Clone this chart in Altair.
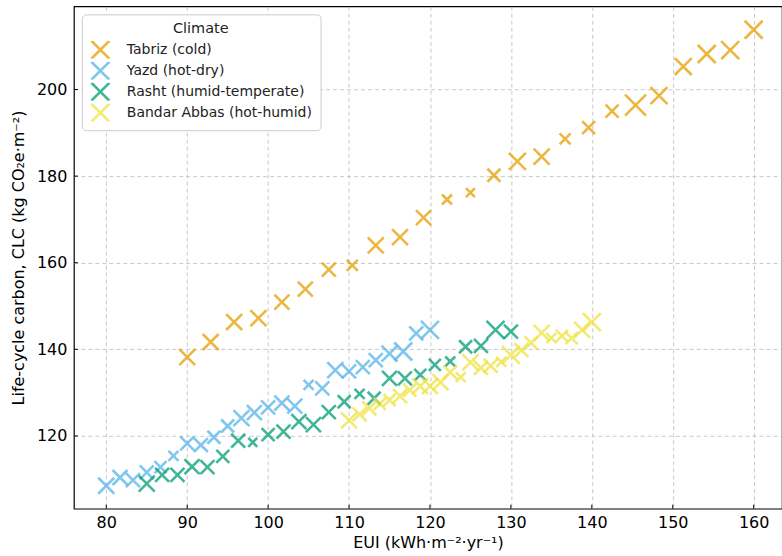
import altair as alt
import pandas as pd

climates = ["Tabriz (cold)", "Yazd (hot-dry)", "Rasht (humid-temperate)", "Bandar Abbas (hot-humid)"]
colors = ["#E69F00", "#56B4E9", "#009E73", "#F0E442"]

tabriz_eui = [90.0, 92.9, 95.8, 98.8, 101.7, 104.6, 107.5, 110.4, 113.3, 116.3, 119.2, 122.1, 125.0,
              127.9, 130.8, 133.8, 136.7, 139.6, 142.5, 145.4, 148.3, 151.3, 154.2, 157.1, 160.0]
tabriz_clc = [138.2, 141.7, 146.3, 147.2, 150.9, 153.9, 158.4, 159.4, 164.0, 165.9, 170.4, 174.6, 176.2,
              180.2, 183.4, 184.5, 188.6, 191.2, 195.0, 196.4, 198.6, 205.3, 208.2, 209.1, 213.8]
tabriz_w = [16, 16, 16, 16, 15, 15, 14, 11, 16, 16, 15, 10, 9, 13, 17, 16, 11, 13, 13, 21, 17, 17, 18, 18, 18]

yazd_eui = [80.0, 81.7, 83.3, 85.0, 86.7, 88.3, 90.0, 91.7, 93.3, 95.0, 96.7, 98.3, 100.0,
            101.7, 103.3, 105.0, 106.7, 108.3, 110.0, 111.7, 113.3, 115.0, 116.7, 118.3, 120.0]
yazd_clc = [108.5, 110.4, 109.8, 111.6, 112.8, 115.4, 118.3, 117.9, 119.7, 122.3, 124.1, 125.4, 126.6,
            127.6, 126.9, 131.8, 131.0, 135.2, 134.9, 135.9, 137.5, 139.0, 139.5, 143.7, 144.5]
yazd_w = [16, 15, 14, 14, 12, 10, 14, 14, 13, 13, 16, 15, 14, 15, 15, 10, 14, 16, 14, 14, 14, 16, 18, 14, 18]

rasht_eui = [85.0, 86.9, 88.8, 90.6, 92.5, 94.4, 96.3, 98.1, 100.0, 101.9, 103.8, 105.6, 107.5,
             109.4, 111.3, 113.1, 115.0, 116.9, 118.8, 120.6, 122.5, 124.4, 126.3, 128.1, 130.0]
rasht_clc = [109.0, 111.0, 111.0, 112.9, 112.8, 115.3, 118.9, 118.5, 120.3, 121.0, 123.3, 122.6, 125.5,
             127.9, 129.7, 128.7, 133.3, 133.3, 134.1, 136.4, 137.2, 140.6, 140.8, 144.5, 144.1]
rasht_w = [16, 14, 14, 15, 14, 13, 14, 9, 13, 14, 15, 15, 14, 13, 10, 13, 15, 14, 12, 12, 10, 13, 14, 18, 14]

bandar_eui = [110.0, 111.3, 112.5, 113.8, 115.0, 116.3, 117.5, 118.8, 120.0, 121.3, 122.5, 123.8, 125.0,
              126.3, 127.5, 128.8, 130.0, 131.3, 132.5, 133.8, 135.0, 136.3, 137.5, 138.8, 140.0]
bandar_clc = [123.6, 125.0, 126.4, 127.4, 128.3, 129.2, 130.6, 131.5, 131.5, 132.4, 134.7, 133.6, 137.0,
              135.7, 136.2, 137.1, 138.7, 139.8, 141.5, 143.8, 142.6, 143.1, 142.6, 144.5, 146.3]
bandar_w = [16, 14, 14, 12, 12, 14, 13, 16, 16, 16, 14, 10, 16, 14, 14, 10, 18, 14, 13, 16, 10, 12, 12, 16, 18]

x_ticks = [80, 90, 100, 110, 120, 130, 140, 150, 160]
y_ticks = [120, 140, 160, 180, 200]

rows = []
for name, xs, ys, ws in zip(climates,
                            [tabriz_eui, yazd_eui, rasht_eui, bandar_eui],
                            [tabriz_clc, yazd_clc, rasht_clc, bandar_clc],
                            [tabriz_w, yazd_w, rasht_w, bandar_w]):
    for xv, yv, wv in zip(xs, ys, ws):
        rows.append({"Climate": name, "EUI": xv, "CLC": yv, "w": wv})
df = pd.DataFrame(rows)

X_PATH = "M-1,-1L1,1M-1,1L1,-1"
FONT = "DejaVu Sans"
W, H = 709, 503

xscale = alt.Scale(domain=[76, 163.5], nice=False, zero=False)
yscale = alt.Scale(domain=[103.2, 219.2], nice=False, zero=False)

points = alt.Chart(df).transform_calculate(
    sz="datum.w * datum.w"
).mark_point(shape=X_PATH, filled=False, strokeWidth=2.6, opacity=0.75).encode(
    x=alt.X("EUI:Q", scale=xscale,
            axis=alt.Axis(title="EUI (kWh·m⁻²·yr⁻¹)", values=x_ticks, tickSize=0,
                          labelPadding=6, titlePadding=4)),
    y=alt.Y("CLC:Q", scale=yscale,
            axis=alt.Axis(title="Life-cycle carbon, CLC (kg CO₂e·m⁻²)", values=y_ticks, tickSize=0,
                          labelPadding=7, titlePadding=10, titleY=H / 2)),
    color=alt.Color("Climate:N", sort=climates,
                    scale=alt.Scale(domain=climates, range=colors),
                    legend=alt.Legend(title="Climate", orient="none", legendX=8, legendY=8,
                                      symbolType=X_PATH, symbolSize=324, symbolStrokeWidth=2.6,
                                      symbolOpacity=0.75, fillColor="white", strokeColor="#cccccc",
                                      cornerRadius=4, padding=8, titleAnchor="middle",
                                      titleAlign="center", rowPadding=3, clipHeight=18,
                                      labelOffset=16, labelLimit=400, titlePadding=4)),
    size=alt.Size("sz:Q", scale=None),
)

xt = pd.DataFrame({"t": x_ticks})
yt = pd.DataFrame({"t": y_ticks})
xtick_layer = alt.Chart(xt).mark_rule(color="black", strokeWidth=1).encode(
    x=alt.X("t:Q", scale=xscale), y=alt.value(H - 4), y2=alt.value(H))
ytick_layer = alt.Chart(yt).mark_rule(color="black", strokeWidth=1).encode(
    y=alt.Y("t:Q", scale=yscale), x=alt.value(0), x2=alt.value(4))

chart = alt.layer(points, xtick_layer, ytick_layer).properties(
    width=W, height=H,
    autosize=alt.AutoSizeParams(type="none"),
    padding={"left": 74, "top": 6, "right": 0, "bottom": 47},
).configure_view(
    stroke="black", strokeWidth=1.2
).configure_axis(
    labelFont=FONT, titleFont=FONT, labelFontSize=16, titleFontSize=16,
    labelColor="black", titleColor="black", titleFontWeight="normal",
    domain=False, grid=True, gridColor="#bbbbbb", gridDash=[4, 3], gridWidth=0.8,
).configure_legend(
    titleFont=FONT, labelFont=FONT, titleFontSize=14.5, labelFontSize=14,
    titleFontWeight="normal", titleColor="#222222", labelColor="#222222",
)

chart.save("out.html", embed_options={"renderer": "svg", "actions": False})
